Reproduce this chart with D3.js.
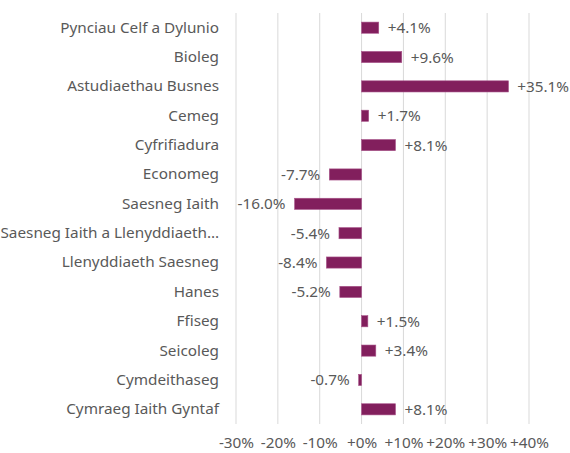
<!DOCTYPE html>
<html>
<head>
<meta charset="utf-8">
<script src="https://cdn.jsdelivr.net/npm/d3@7"></script>
<style>
  body { margin: 0; background: #fff; }
  svg text { font-family: "Segoe UI", "Noto Sans", "Open Sans", sans-serif; }
</style>
</head>
<body>
<div id="chart"></div>
<script>
const subjects = [
  "Pynciau Celf a Dylunio", "Bioleg", "Astudiaethau Busnes", "Cemeg",
  "Cyfrifiadura", "Economeg", "Saesneg Iaith", "Saesneg Iaith a Llenyddiaeth…",
  "Llenyddiaeth Saesneg", "Hanes", "Ffiseg", "Seicoleg", "Cymdeithaseg",
  "Cymraeg Iaith Gyntaf"
];
const changes = [4.1, 9.6, 35.1, 1.7, 8.1, -7.7, -16.0, -5.4, -8.4, -5.2, 1.5, 3.4, -0.7, 8.1];
const tickValues = [-30, -20, -10, 0, 10, 20, 30, 40];

const width = 570, height = 453;
const margin = { top: 13, right: 41, bottom: 29, left: 236 };
const fontSize = "15.3px";

const data = subjects.map((s, i) => ({ subject: s, value: changes[i] }));

const svg = d3.select("#chart").append("svg")
  .attr("width", width)
  .attr("height", height);

const x = d3.scaleLinear()
  .domain([-30, 40])
  .range([margin.left, width - margin.right]);

const y = d3.scaleBand()
  .domain(subjects)
  .range([margin.top, height - margin.bottom])
  .paddingInner(0.62)
  .paddingOuter(0.31);

const fmt = v => (v >= 0 ? "+" : "") + v.toFixed(1) + "%";

// gridlines
svg.append("g")
  .selectAll("line")
  .data(tickValues)
  .join("line")
  .attr("x1", d => x(d)).attr("x2", d => x(d))
  .attr("y1", margin.top).attr("y2", height - margin.bottom)
  .attr("stroke", "#d9d9d9")
  .attr("stroke-width", 1);

// x axis labels
const xAxis = svg.append("g")
  .attr("transform", `translate(0,${height - margin.bottom})`)
  .call(d3.axisBottom(x).tickValues(tickValues).tickSize(0).tickPadding(13)
    .tickFormat(d => (d >= 0 ? "+" : "") + d + "%"));
xAxis.select(".domain").remove();
xAxis.selectAll("text")
  .attr("fill", "#595959")
  .style("font-size", fontSize);

// category labels
const yAxis = svg.append("g")
  .attr("transform", `translate(${margin.left - 17},0)`)
  .call(d3.axisLeft(y).tickSize(0).tickPadding(0));
yAxis.select(".domain").remove();
yAxis.selectAll("text")
  .attr("fill", "#595959")
  .style("font-size", fontSize);

// bars
svg.append("g")
  .selectAll("rect")
  .data(data)
  .join("rect")
  .attr("x", d => x(Math.min(0, d.value)))
  .attr("y", d => y(d.subject))
  .attr("width", d => Math.abs(x(d.value) - x(0)))
  .attr("height", y.bandwidth())
  .attr("fill", "#821f5d")
  .attr("stroke", "#a8548a")
  .attr("stroke-width", 0.6);

// value labels
svg.append("g")
  .selectAll("text")
  .data(data)
  .join("text")
  .attr("y", d => y(d.subject) + y.bandwidth() / 2)
  .attr("dy", "0.36em")
  .attr("fill", "#595959")
  .style("font-size", fontSize)
  .text(d => fmt(d.value))
  .each(function(d) {
    const t = d3.select(this);
    const w = this.getComputedTextLength();
    if (d.value >= 0) {
      let px = x(d.value) + 9;
      if (px + w > width - 1) px = width - 1 - w;
      t.attr("x", px).attr("text-anchor", "start");
    } else {
      t.attr("x", x(d.value) - 9).attr("text-anchor", "end");
    }
  });
</script>
</body>
</html>
